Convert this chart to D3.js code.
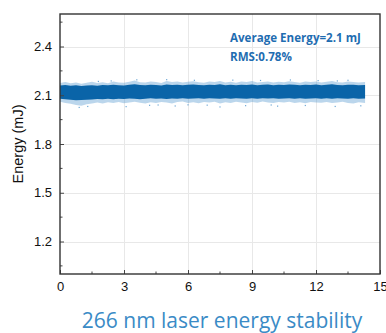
<!DOCTYPE html>
<html>
<head>
<meta charset="utf-8">
<script src="https://cdn.jsdelivr.net/npm/d3@7"></script>
<style>
  html, body { margin: 0; padding: 0; background: #fff; }
  svg { display: block; }
</style>
</head>
<body>
<svg id="chart" width="386" height="333"></svg>
<script>
// Measurement time (h) at which the band envelope was sampled
const timeH = [0,0.25,0.5,0.75,1,1.25,1.5,1.75,2,2.25,2.5,2.75,3,3.25,3.5,3.75,4,4.25,4.5,4.75,
  5,5.25,5.5,5.75,6,6.25,6.5,6.75,7,7.25,7.5,7.75,8,8.25,8.5,8.75,9,9.25,9.5,9.75,
  10,10.25,10.5,10.75,11,11.25,11.5,11.75,12,12.25,12.5,12.75,13,13.25,13.5,13.75,14,14.3];

// Dense core of the pulse-energy cloud (mJ)
const coreHigh = [2.160,2.163,2.158,2.161,2.157,2.160,2.162,2.159,2.163,2.161,
  2.165,2.162,2.160,2.164,2.167,2.163,2.161,2.165,2.163,2.160,
  2.166,2.163,2.165,2.161,2.164,2.166,2.163,2.161,2.165,2.163,
  2.167,2.162,2.164,2.161,2.165,2.163,2.166,2.162,2.164,2.166,
  2.162,2.165,2.163,2.166,2.164,2.161,2.165,2.163,2.166,2.162,
  2.164,2.167,2.163,2.161,2.165,2.164,2.162,2.163];
const coreLow = [2.078,2.075,2.072,2.070,2.071,2.073,2.074,2.077,2.075,2.078,
  2.076,2.079,2.077,2.080,2.078,2.076,2.079,2.081,2.078,2.080,
  2.077,2.080,2.079,2.082,2.078,2.080,2.081,2.079,2.082,2.080,
  2.078,2.081,2.079,2.082,2.080,2.078,2.081,2.079,2.082,2.080,
  2.081,2.078,2.080,2.082,2.079,2.081,2.078,2.080,2.082,2.079,
  2.081,2.079,2.082,2.080,2.078,2.081,2.079,2.080];

// Sparse fringe of the cloud (mJ)
const fringeHigh = [2.176,2.181,2.174,2.179,2.171,2.177,2.183,2.175,2.180,2.174,
  2.184,2.179,2.177,2.183,2.191,2.180,2.178,2.185,2.182,2.176,
  2.187,2.181,2.184,2.178,2.183,2.186,2.180,2.177,2.185,2.182,
  2.188,2.179,2.183,2.177,2.184,2.181,2.187,2.179,2.182,2.185,
  2.178,2.183,2.180,2.186,2.182,2.177,2.184,2.181,2.185,2.179,
  2.183,2.187,2.180,2.178,2.184,2.182,2.179,2.181];
const fringeLow = [2.060,2.052,2.047,2.040,2.036,2.044,2.049,2.055,2.050,2.057,
  2.053,2.058,2.051,2.056,2.060,2.054,2.049,2.057,2.052,2.059,
  2.055,2.050,2.058,2.061,2.053,2.057,2.051,2.059,2.055,2.060,
  2.049,2.057,2.053,2.060,2.056,2.051,2.058,2.054,2.061,2.055,
  2.052,2.058,2.055,2.060,2.053,2.057,2.051,2.059,2.056,2.054,
  2.058,2.052,2.056,2.060,2.053,2.049,2.057,2.052];

// Isolated outlying pulses: [time h, energy mJ]
const outliers = [[0.9,2.025],[1.3,2.031],[1.8,2.185],[2.4,2.188],[3.1,2.030],[3.6,2.195],
  [4.2,2.038],[4.6,2.040],[5.0,2.196],[5.4,2.034],[6.0,2.041],[6.3,2.192],[6.9,2.039],
  [7.5,2.028],[8.1,2.193],[8.7,2.036],[9.4,2.191],[9.9,2.040],[10.2,2.033],[10.8,2.194],
  [11.5,2.037],[12.1,2.190],[12.9,2.031],[13.0,2.188],[13.5,2.192],[14.1,2.035]];

const xTicks = [0, 3, 6, 9, 12, 15];
const xMinor = [1.5, 4.5, 7.5, 10.5, 13.5];
const yTicks = [1.2, 1.5, 1.8, 2.1, 2.4];
const yMinor = [1.05, 1.35, 1.65, 1.95, 2.25, 2.55];

const averageEnergy = 2.1;
const rmsPercent = 0.78;

const plot = { left: 60, right: 380, top: 14, bottom: 274 };
const svg = d3.select("#chart");

const x = d3.scaleLinear().domain([0, 15]).range([plot.left, plot.right]);
const y = d3.scaleLinear().domain([1.0, 2.6]).range([plot.bottom, plot.top]);

// grid
const grid = svg.append("g").attr("stroke", "#e8e8e8").attr("stroke-width", 1);
grid.selectAll(".gx").data(xTicks.filter(d => d > 0 && d < 15)).join("line")
  .attr("x1", d => Math.round(x(d)) + 0.5).attr("x2", d => Math.round(x(d)) + 0.5)
  .attr("y1", plot.top).attr("y2", plot.bottom);
grid.selectAll(".gy").data(yTicks).join("line")
  .attr("y1", d => Math.round(y(d)) + 0.5).attr("y2", d => Math.round(y(d)) + 0.5)
  .attr("x1", plot.left).attr("x2", plot.right);

// energy cloud
const idx = d3.range(timeH.length);
const fringe = d3.area().x(i => x(timeH[i])).y0(i => y(fringeLow[i])).y1(i => y(fringeHigh[i]));
const core = d3.area().x(i => x(timeH[i])).y0(i => y(coreLow[i])).y1(i => y(coreHigh[i]));

svg.append("path").datum(idx).attr("d", fringe)
  .attr("fill", "#5599d0").attr("fill-opacity", 0.4);
svg.append("path").datum(idx).attr("d", core)
  .attr("fill", "#0a64a8");
svg.append("g").selectAll("rect").data(outliers).join("rect")
  .attr("x", d => x(d[0]) - 0.6).attr("y", d => y(d[1]) - 0.6)
  .attr("width", 1.2).attr("height", 1.2)
  .attr("fill", "#4a92cc").attr("fill-opacity", 0.8);

// axes
const fontAxis = "'Liberation Sans', Arial, sans-serif";
const xAxis = d3.axisBottom(x).tickValues(xTicks).tickSizeInner(-4).tickSizeOuter(0).tickPadding(8)
  .tickFormat(d3.format("d"));
const gx = svg.append("g").attr("transform", `translate(0,${plot.bottom})`).call(xAxis);
gx.select(".domain").remove();
gx.selectAll(".tick line").attr("stroke", "#444");
gx.selectAll(".tick text").attr("font-family", fontAxis).attr("font-size", 13).attr("fill", "#111");
svg.append("g").selectAll("line").data(xMinor).join("line")
  .attr("x1", d => x(d)).attr("x2", d => x(d))
  .attr("y1", plot.bottom).attr("y2", plot.bottom - 2.5).attr("stroke", "#444");

const yAxis = d3.axisLeft(y).tickValues(yTicks).tickSizeInner(-4).tickSizeOuter(0).tickPadding(8)
  .tickFormat(d3.format(".1f"));
const gy = svg.append("g").attr("transform", `translate(${plot.left},0)`).call(yAxis);
gy.select(".domain").remove();
gy.selectAll(".tick line").attr("stroke", "#444");
gy.selectAll(".tick text").attr("font-family", fontAxis).attr("font-size", 13).attr("fill", "#111");
svg.append("g").selectAll("line").data(yMinor).join("line")
  .attr("y1", d => y(d)).attr("y2", d => y(d))
  .attr("x1", plot.left).attr("x2", plot.left + 2.5).attr("stroke", "#444");

// frame
svg.append("rect")
  .attr("x", plot.left).attr("y", plot.top)
  .attr("width", plot.right - plot.left).attr("height", plot.bottom - plot.top)
  .attr("fill", "none").attr("stroke", "#333").attr("stroke-width", 1.4);

// y axis title
svg.append("text")
  .attr("transform", `translate(23,${(plot.top + plot.bottom) / 2}) rotate(-90)`)
  .attr("text-anchor", "middle")
  .attr("font-family", fontAxis).attr("font-size", 14.5).attr("fill", "#111")
  .text("Energy (mJ)");

// annotation
const note = svg.append("g").attr("font-family", "'Open Sans', 'Noto Sans', sans-serif")
  .attr("font-weight", 700).attr("font-size", 11.6).attr("fill", "#1f6db1");
note.append("text").attr("x", 230).attr("y", 42).text(`Average Energy=${averageEnergy} mJ`);
note.append("text").attr("x", 230).attr("y", 61).text(`RMS:${rmsPercent}%`);

// caption
svg.append("text")
  .attr("x", 222).attr("y", 328)
  .attr("text-anchor", "middle")
  .attr("font-family", "'Open Sans', 'Noto Sans', sans-serif")
  .attr("font-size", 21).attr("fill", "#3a8bc6")
  .text("266 nm laser energy stability");
</script>
</body>
</html>
